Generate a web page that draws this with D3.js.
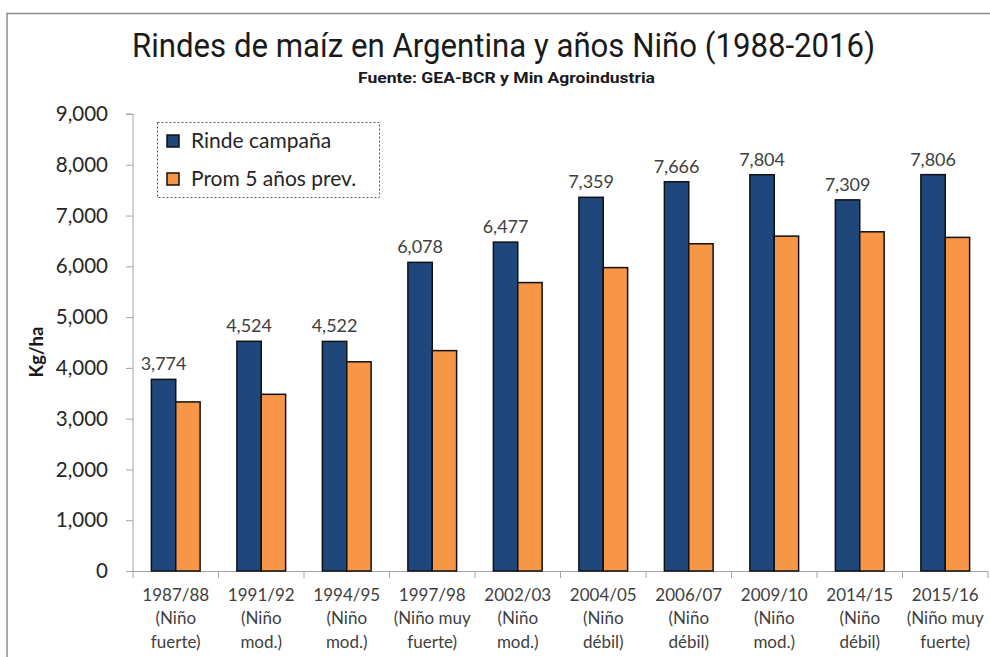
<!DOCTYPE html>
<html><head><meta charset="utf-8">
<script src="https://cdn.jsdelivr.net/npm/d3@7"></script>
<style>
body{margin:0;background:#fff;}
svg{display:block;}
</style></head>
<body>
<svg id="chart" width="990" height="657"></svg>
<script>
const categories = ["1987/88","1991/92","1994/95","1997/98","2002/03","2004/05","2006/07","2009/10","2014/15","2015/16"];
const subLabels = [["(Niño","fuerte)"],["(Niño","mod.)"],["(Niño","mod.)"],["(Niño muy","fuerte)"],["(Niño","mod.)"],["(Niño","débil)"],["(Niño","débil)"],["(Niño","mod.)"],["(Niño","débil)"],["(Niño muy","fuerte)"]];
const rinde = [3774,4524,4522,6078,6477,7359,7666,7804,7309,7806];
const prom5 = [3330,3480,4120,4340,5680,5975,6445,6595,6680,6570];
const seriesNames = ["Rinde campaña","Prom 5 años prev."];
const yTicks = [0,1000,2000,3000,4000,5000,6000,7000,8000,9000];
const colors = ["#1F477B","#F79646"];

(function(){
const svg = d3.select("#chart");
const bodyFont = "Lato, 'Open Sans', sans-serif";
const condFont = "Roboto, 'DejaVu Sans', sans-serif";

// frame
svg.append("path").attr("d","M7,700V13.5H995")
  .attr("fill","none").attr("stroke","#8c8c8c").attr("stroke-width",1.5);

const pL=133, pR=988, pT=114, pB=571;
const x = d3.scaleBand().domain(categories).range([pL,pR]).paddingInner(0.43).paddingOuter(0.215);
const xs = d3.scaleBand().domain([0,1]).range([0,x.bandwidth()]);
const y = d3.scaleLinear().domain([0,9000]).range([pB,pT]);

// title
svg.append("text").attr("x",132).attr("y",57)
  .attr("font-family",condFont).attr("font-size",34).attr("fill","#1a1a1a")
  .attr("textLength",743).attr("lengthAdjust","spacingAndGlyphs")
  .text("Rindes de maíz en Argentina y años Niño (1988-2016)");
svg.append("text").attr("x",358).attr("y",83)
  .attr("font-family",condFont).attr("font-weight","bold").attr("font-size",15.5).attr("fill","#1a1a1a")
  .attr("textLength",297).attr("lengthAdjust","spacingAndGlyphs")
  .text("Fuente: GEA-BCR y Min Agroindustria");

// y axis
const yAxis = svg.append("g").attr("transform",`translate(${pL},0)`)
  .call(d3.axisLeft(y).tickValues(yTicks).tickFormat(d3.format(",")).tickSize(7).tickPadding(18));
yAxis.selectAll("text").attr("font-family",bodyFont).attr("font-size",20.5).attr("fill","#262626");
yAxis.selectAll("line").attr("stroke","#a6a6a6");
yAxis.select(".domain").attr("stroke","#a6a6a6").attr("d",`M-7,${pT}H0V${pB}`);

// x axis
const boundaries = categories.map(c=>x(c)-x.step()*x.paddingInner()/2).concat([pR]);
const xAxisG = svg.append("g");
xAxisG.append("line").attr("x1",pL-7).attr("x2",pR).attr("y1",pB+0.5).attr("y2",pB+0.5).attr("stroke","#a6a6a6");
xAxisG.selectAll("line.tick").data(boundaries).join("line").attr("class","tick")
  .attr("x1",d=>d).attr("x2",d=>d).attr("y1",pB).attr("y2",pB+7).attr("stroke","#a6a6a6");

const xl = svg.append("g").selectAll("text").data(categories).join("text")
  .attr("text-anchor","middle").attr("font-family",bodyFont).attr("font-size",17).attr("fill","#404040");
xl.each(function(d,i){
  const t=d3.select(this);
  const cx = x(d)+x.bandwidth()/2;
  t.append("tspan").attr("x",cx).attr("y",601).text(d);
  t.append("tspan").attr("x",cx).attr("y",624).text(subLabels[i][0]);
  t.append("tspan").attr("x",cx).attr("y",648).text(subLabels[i][1]);
});

// y label
svg.append("text").attr("transform",`translate(43,352) rotate(-90)`)
  .attr("text-anchor","middle").attr("font-family",bodyFont).attr("font-weight","bold").attr("font-size",18.5).attr("fill","#1a1a1a")
  .text("Kg/ha");

// bars
const data = [rinde,prom5];
data.forEach((vals,s)=>{
  svg.append("g").selectAll("rect").data(vals).join("rect")
    .attr("x",(d,i)=>x(categories[i])+xs(s))
    .attr("width",xs.bandwidth())
    .attr("y",d=>y(d))
    .attr("height",d=>y(0)-y(d))
    .attr("fill",colors[s]).attr("stroke","#111").attr("stroke-width",1.5);
});

// labels
svg.append("g").selectAll("text").data(rinde).join("text")
  .attr("x",(d,i)=>x(categories[i])+xs(0)+xs.bandwidth()/2)
  .attr("y",d=>y(d)-9).attr("text-anchor","middle")
  .attr("font-family",bodyFont).attr("font-size",18).attr("fill","#404040")
  .text(d=>d3.format(",")(d));

// legend
const lg = svg.append("g");
lg.append("rect").attr("x",157.5).attr("y",122.5).attr("width",222).attr("height",75)
  .attr("fill","#fff").attr("stroke","#595959").attr("stroke-dasharray","2,2");
seriesNames.forEach((n,i)=>{
  const cy = 141 + i*38;
  lg.append("rect").attr("x",167).attr("y",cy-6).attr("width",12).attr("height",12)
    .attr("fill",colors[i]).attr("stroke","#111").attr("stroke-width",1.5);
  lg.append("text").attr("x",191).attr("y",cy+7).attr("font-family",bodyFont).attr("font-size",21).attr("fill","#262626").text(n);
});
})();
</script>
</body></html>
